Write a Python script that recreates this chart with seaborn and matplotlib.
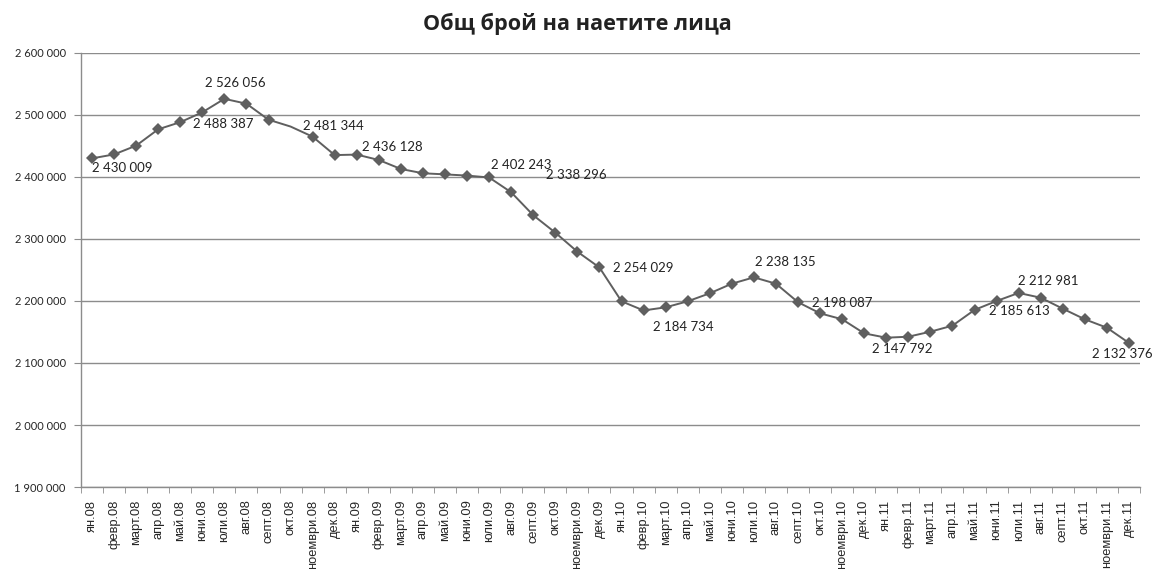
import numpy as np
import pandas as pd
import matplotlib
matplotlib.use('Agg')
import matplotlib.pyplot as plt
from matplotlib.ticker import FuncFormatter, MultipleLocator
import seaborn as sns

# months on the x axis (Bulgarian abbreviations), 2008-2011
months = ['ян', 'февр', 'март', 'апр', 'май', 'юни', 'юли', 'авг', 'септ', 'окт', 'ноември', 'дек']
years = ['08', '09', '10', '11']
labels = [m + '.' + y for y in years for m in months]

# number of employed persons
emp_2008 = [2430009, 2436400, 2450500, 2476900, 2488387, 2504300, 2526056, 2518200, 2492400, 2481344, 2465000, 2435300]
emp_2009 = [2436128, 2427400, 2412900, 2406000, 2404200, 2402243, 2399200, 2375300, 2338296, 2310200, 2279500, 2254029]
emp_2010 = [2199500, 2184734, 2189800, 2199500, 2212400, 2227900, 2238135, 2227900, 2198087, 2180100, 2170500, 2147792]
emp_2011 = [2140800, 2142400, 2150500, 2160200, 2185613, 2200000, 2212981, 2205300, 2187600, 2170500, 2156900, 2132376]
employed = emp_2008 + emp_2009 + emp_2010 + emp_2011

# which points get a value label
labelled = ['ян.08', 'май.08', 'юли.08', 'окт.08', 'ян.09', 'юни.09', 'септ.09', 'дек.09',
            'февр.10', 'юли.10', 'септ.10', 'дек.10', 'май.11', 'юли.11', 'дек.11']

df = pd.DataFrame({'month': labels, 'employed': employed})
df['pos'] = np.arange(len(df))

# label placement (pixel offsets from the point to the label centre)
label_offsets = {
    'ян.08': (30, -10), 'май.08': (43, -2), 'юли.08': (11, 16), 'окт.08': (43, 1),
    'ян.09': (36, 8), 'юни.09': (54, 11), 'септ.09': (43, 40), 'дек.09': (44, -1),
    'февр.10': (40, -17), 'юли.10': (31, 15), 'септ.10': (44, -1), 'дек.10': (38, -16),
    'май.11': (45, -1), 'юли.11': (30, 12), 'дек.11': (-7, -11),
}

sns.set_style('white')
plt.rcParams['font.family'] = ['Lato', 'DejaVu Sans']

fig, ax = plt.subplots(figsize=(11.55, 5.69), dpi=100)
fig.subplots_adjust(left=0.0701, right=0.987, top=0.9069, bottom=0.1441)

# the Oct 2008 point has no marker in the original
marks = [i for i in range(len(df)) if labels[i] != 'окт.08']
sns.lineplot(data=df, x='pos', y='employed', ax=ax, color='#5f5f5f', linewidth=1.4,
             marker='D', markersize=6.5, markeredgewidth=0, markevery=marks)

def fmt(v):
    return '{:,}'.format(int(round(v))).replace(',', ' ')

for _, row in df.iterrows():
    if row['month'] in labelled:
        dx, dy = label_offsets[row['month']]
        ax.annotate(fmt(row['employed']), (row['pos'], row['employed']),
                    xytext=(dx, dy), textcoords='offset pixels',
                    ha='center', va='center', fontsize=9.5, color='#222222')

ax.set_ylim(1900000, 2600000)
ax.set_xlim(-0.5, len(df) - 0.5)
ax.yaxis.set_major_locator(MultipleLocator(100000))
ax.yaxis.set_major_formatter(FuncFormatter(lambda v, p: fmt(v)))
ax.grid(axis='y', color='#8c8c8c', linewidth=1.0)
ax.set_axisbelow(True)

ax.set_xticks(df['pos'])
ax.set_xticklabels(labels, rotation=90, fontsize=9.3, family=['Liberation Sans', 'DejaVu Sans'])
ax.set_xticks(np.arange(-0.5, len(df), 1.0), minor=True)
ax.tick_params(axis='x', which='major', length=0, pad=9)
ax.tick_params(axis='x', which='minor', length=4, color='#8c8c8c', direction='out')
ax.tick_params(axis='y', length=5, color='#8c8c8c', direction='out', labelsize=8, pad=6)
ax.tick_params(bottom=True, left=True, which='both')

for side in ['top', 'right']:
    ax.spines[side].set_visible(False)
for side in ['left', 'bottom']:
    ax.spines[side].set_color('#8c8c8c')
    ax.spines[side].set_linewidth(1.0)

ax.set_xlabel('')
ax.set_ylabel('')
fig.suptitle('Общ брой на наетите лица', x=0.5, y=0.958, fontsize=15.6, fontweight='bold',
             va='center', color='#222222', family=['Open Sans', 'DejaVu Sans'])

plt.savefig('out.png', dpi=100)
